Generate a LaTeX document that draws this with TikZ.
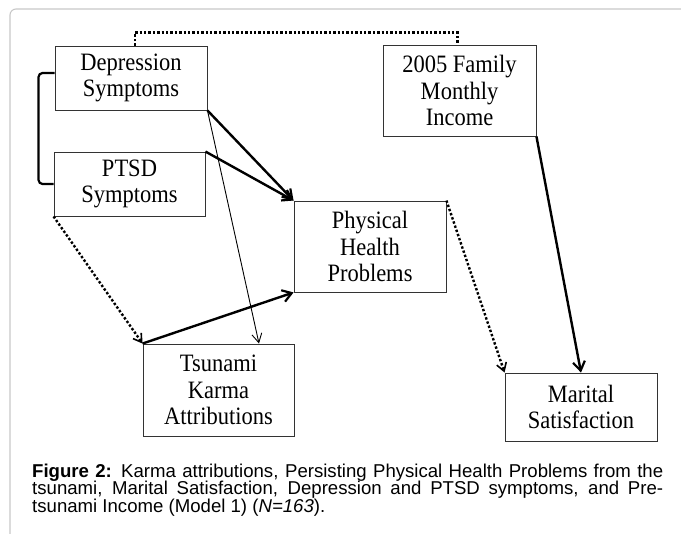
\documentclass[tikz,border=0pt]{standalone}
\usepackage{fontspec}
\setmainfont{Liberation Serif}
\newfontfamily\boxfont{Liberation Serif}[FakeStretch=0.9]
\newfontfamily\capfont{Liberation Sans}
\usetikzlibrary{arrows.meta}
\tikzset{
  box/.style={draw=black!80, line width=0.9pt, inner sep=0pt, align=center,
    font=\boxfont\fontsize{25}{26.5}\selectfont},
  thickarrow/.style={line width=2.4pt, -{Straight Barb[length=9pt,width=12pt,line width=2.2pt]}},
  thinarrow/.style={line width=0.9pt, -{Straight Barb[length=9pt,width=10pt,line width=0.9pt]}},
  dotline/.style={line width=2.4pt, dash pattern=on 2.4pt off 2pt},
  dotarrow/.style={dotline, -{Straight Barb[length=8pt,width=10pt,line width=1.6pt]}},
  bracket/.style={line width=2.2pt, rounded corners=4pt},
  frame/.style={draw=black!22, line width=1.1pt, rounded corners=6pt},
  captext/.style={anchor=base west, inner sep=0pt, font=\capfont\fontsize{18.6}{17.5}\selectfont}
}
\begin{document}
\begin{tikzpicture}[x=1pt,y=-1pt]
\useasboundingbox (0,0) rectangle (681,534);
\draw[frame] (10,534) -- (10,9) -- (681,9);

\node[box, minimum width=152pt, minimum height=64pt] (dep) at (131,78) {Depression\\Symptoms};
\node[box, minimum width=151pt, minimum height=64pt] (ptsd) at (129.5,184) {PTSD\\Symptoms};
\node[box, minimum width=153pt, minimum height=91pt] (inc) at (459.5,90.5) {2005 Family\\Monthly\\Income};
\node[box, minimum width=152pt, minimum height=91pt] (phys) at (370,246.5) {Physical\\Health\\Problems};
\node[box, minimum width=151pt, minimum height=92pt] (tsu) at (218.5,390) {Tsunami\\Karma\\Attributions};
\node[box, minimum width=152pt, minimum height=68pt] (mar) at (581,407) {Marital\\Satisfaction};

% correlations
\draw[dotline] ([xshift=4pt]dep.north) -- ++(0,-13) -| ([xshift=-2pt]inc.north);
\draw[bracket] ([yshift=5pt]dep.west) -- ++(-16,0) |- (ptsd.west);

% paths
\draw[thickarrow] (dep.south east) -- (phys.north west);
\draw[thickarrow] (ptsd.north east) -- (phys.north west);
\draw[thinarrow] (dep.south east) -- ([xshift=40.5pt]tsu.north);
\draw[dotarrow] (ptsd.south west) -- (tsu.north west);
\draw[thickarrow] (tsu.north west) -- (phys.south west);
\draw[dotarrow] (phys.north east) -- (mar.north west);
\draw[thickarrow] (inc.south east) -- (mar.north);

% caption
\node[captext] (cap1) at (32,477.5) {\makebox[631pt][s]{\textbf{Figure 2:} Karma attributions, Persisting Physical Health Problems from the}};
\node[captext] (cap2) at (32,495) {\makebox[631pt][s]{tsunami, Marital Satisfaction, Depression and PTSD symptoms, and Pre-}};
\node[captext] (cap3) at (32,512.5) {tsunami Income (Model 1) (\textit{N=163}).};
\end{tikzpicture}
\end{document}
